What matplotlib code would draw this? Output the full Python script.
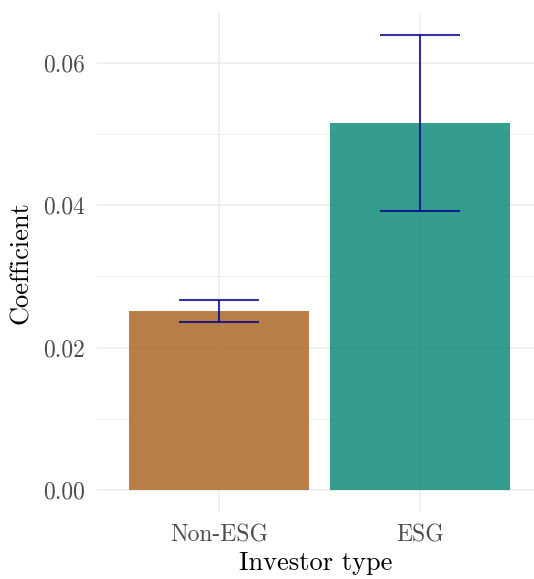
import matplotlib as mpl
import matplotlib.pyplot as plt
from matplotlib.ticker import MultipleLocator

# ========================= Data =========================#
investor_types = ["Non-ESG", "ESG"]
coefficients = [0.0251, 0.0515]
std_errors = [0.00157, 0.0123]
bar_colors = ["#a6611a", "#018571"]

# ========================= Style =========================#
mpl.rcParams["font.family"] = ["cmr10", "DejaVu Serif"]
mpl.rcParams["axes.formatter.use_mathtext"] = True

fig = plt.figure(figsize=(5.34, 5.79), dpi=100)
ax = fig.add_axes([97 / 534, 1 - 512 / 579, (534 - 97) / 534, (512 - 12.7) / 579])

pos = [1, 2]
ax.bar(pos, coefficients, width=0.9, color=bar_colors, alpha=0.8, zorder=2)
ax.errorbar(
    pos,
    coefficients,
    yerr=std_errors,
    fmt="none",
    ecolor="#00008B",
    alpha=0.8,
    elinewidth=1.5,
    capsize=28.8,
    capthick=1.5,
    zorder=3,
)

ax.set_xlim(1 - 122 / 201, 2 + 114 / 201)
ax.set_ylim(-0.00309, 0.0670)
ax.set_xticks(pos)
ax.set_xticklabels(investor_types)
ax.yaxis.set_major_locator(MultipleLocator(0.02))
ax.yaxis.set_minor_locator(MultipleLocator(0.01))
ax.yaxis.set_major_formatter(mpl.ticker.FormatStrFormatter("%.2f"))

ax.grid(True, which="major", color="#EBEBEB", linewidth=1.1, zorder=0)
ax.grid(True, which="minor", axis="y", color="#EBEBEB", linewidth=0.6, zorder=0)
ax.set_axisbelow(True)
for s in ax.spines.values():
    s.set_visible(False)
ax.tick_params(which="both", length=0, labelsize=17, labelcolor="#4D4D4D", pad=9)

ax.set_xlabel("Investor type", fontsize=19, labelpad=3)
ax.set_ylabel("Coefficient", fontsize=19, labelpad=7)

fig.savefig("out.png", dpi=100)
